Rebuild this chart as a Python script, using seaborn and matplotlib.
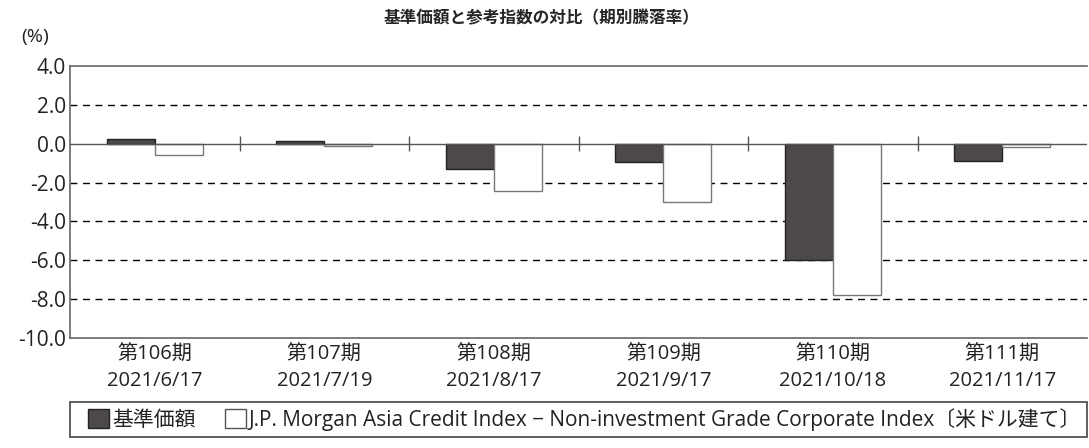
import numpy as np
import pandas as pd
import seaborn as sns
import matplotlib
matplotlib.use('Agg')
from matplotlib import pyplot as plt
from matplotlib.patches import Rectangle, Patch

periods = ['第106期\n2021/6/17', '第107期\n2021/7/19', '第108期\n2021/8/17',
           '第109期\n2021/9/17', '第110期\n2021/10/18', '第111期\n2021/11/17']
fund = [0.24, 0.15, -1.30, -0.93, -6.00, -0.89]
index_ret = [-0.57, -0.10, -2.42, -3.02, -7.79, -0.17]
series_names = ['基準価額',
                'J.P. Morgan Asia Credit Index − Non-investment Grade Corporate Index〔米ドル建て〕']
yticks = [4.0, 2.0, 0.0, -2.0, -4.0, -6.0, -8.0, -10.0]

df = pd.DataFrame({
    'period': periods * 2,
    'value': fund + index_ret,
    'series': [series_names[0]] * len(periods) + [series_names[1]] * len(periods),
})

sns.set_theme(style='white')
plt.rcParams['font.family'] = ['Open Sans', 'Noto Sans CJK JP', 'DejaVu Sans']
jp = ['Noto Sans CJK JP', 'DejaVu Sans']

fig = plt.figure(figsize=(10.89, 4.48), dpi=100)
ax = fig.add_axes([0.0643, 0.2455, 0.934, 0.6072])

dark = '#4d4948'
sns.barplot(data=df, x='period', y='value', hue='series', palette=[dark, 'white'],
            width=0.565, ax=ax, legend=False, saturation=1)

# edges: dark bars black, white bars gray
n = len(periods)
for i, bar in enumerate(ax.patches):
    if i < n:
        bar.set_edgecolor('#222222')
    else:
        bar.set_edgecolor('#777777')
    bar.set_linewidth(1.0)
    bar.set_zorder(3)

ax.set_ylim(-10, 4)
ax.set_xlim(-0.5, n - 0.5)
ax.set_yticks(yticks)
ax.set_yticklabels([f'{v:.1f}' for v in yticks], fontsize=15, color='#222222')
ax.set_xticks(range(n))
ax.set_xticklabels(periods, fontsize=14.5, linespacing=1.4, color='#222222')
ax.tick_params(axis='y', length=0, pad=3)
ax.tick_params(axis='x', length=0, pad=5)
ax.set_xlabel('')
ax.set_ylabel('')

for v in [2, -2, -4, -6, -8]:
    ax.axhline(v, color='black', lw=1.0, ls=(0, (5, 4)), zorder=1)
ax.axhline(0, color='#555555', lw=1.0, zorder=4)
ax.vlines([i + 0.5 for i in range(n - 1)], -0.4, 0.4, color='#555555', lw=1.0, zorder=4)

for side in ['left', 'top', 'bottom']:
    ax.spines[side].set_color('#666666')
    ax.spines[side].set_linewidth(1.2)
ax.spines['right'].set_visible(False)

fig.text(0.497, 0.96, '基準価額と参考指数の対比（期別騰落率）', ha='center', va='center',
         fontsize=12, fontweight='bold', family=jp)
fig.text(0.032, 0.918, '(%)', ha='center', va='center', fontsize=14, color='#222222')

# legend box
fig.patches.append(Rectangle((0.0643, 0.025), 0.934, 0.078, transform=fig.transFigure,
                             fill=False, edgecolor='#444444', lw=1.2))
handles = [Patch(facecolor=dark, edgecolor='#222222'),
           Patch(facecolor='white', edgecolor='#555555')]
fig.legend(handles, series_names, loc='center left', bbox_to_anchor=(0.081, 0.064),
           ncol=2, frameon=False, fontsize=15, handlelength=1.0, handleheight=1.0,
           handletextpad=0.15, columnspacing=1.4, borderaxespad=0, borderpad=0,
           labelcolor='#222222')

fig.savefig('out.png', dpi=100)
